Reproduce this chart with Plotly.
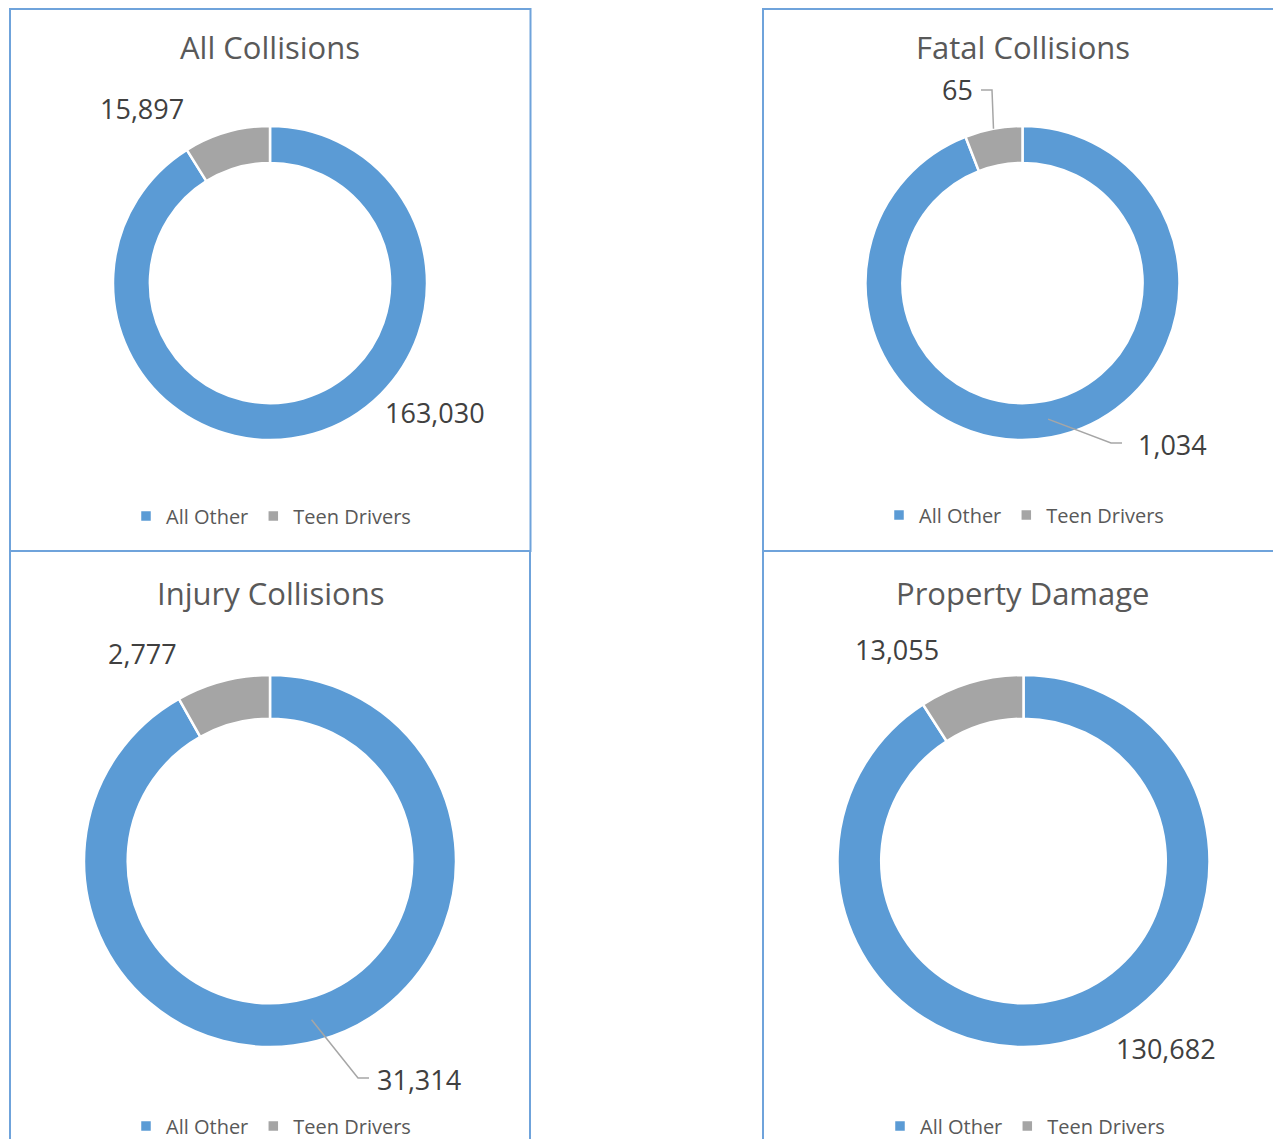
import math
import plotly.graph_objects as go

W, H = 1281, 1139
OFF = 8  # page body margin
FW, FH = W - OFF, H - OFF

# ---- data ----
titles = ["All Collisions", "Fatal Collisions", "Injury Collisions", "Property Damage"]
categories = ["All Other", "Teen Drivers"]
all_other = [163030, 1034, 31314, 130682]
teen_drivers = [15897, 65, 2777, 13055]

# ---- layout geometry (page pixels) ----
panels = [  # border box x0, y0, x1, y1
    (10, 9, 530.5, 551),
    (763, 9, 1295, 551),
    (10, 551, 530, 1150),
    (763, 551, 1295, 1150),
]
centers = [(270, 283), (1022.5, 283), (270, 861), (1023.5, 861)]
outer_r = [157, 157, 186, 186]
hole = 0.765
title_y = [47, 47, 593, 593]
legend_pos = [(271, 516), (1024, 515), (271, 1126), (1025, 1126)]
teen_lbl = [(142, 109), (957, 90), (142, 653), (897, 650)]
other_lbl = [(435, 412), (1172, 444), (419, 1079), (1166, 1048)]
leader_teen = [False, True, False, False]
leader_other = [False, True, True, False]

BLUE = "#5B9BD5"
GRAY = "#A5A5A5"
FONT = "Open Sans"


def px(x):
    return (x - OFF) / FW


def py(y):
    return 1 - (y - OFF) / FH


fig = go.Figure()
annotations = []
shapes = []

for i in range(4):
    cx, cy = centers[i]
    r = outer_r[i]
    vals = [all_other[i], teen_drivers[i]]
    leg = "legend" if i == 0 else f"legend{i + 1}"
    fig.add_trace(go.Pie(
        labels=categories,
        values=vals,
        hole=hole,
        sort=False,
        direction="clockwise",
        rotation=0,
        textinfo="none",
        hoverinfo="label+value",
        marker=dict(colors=[BLUE, GRAY], line=dict(color="white", width=2.5)),
        domain=dict(x=[px(cx - r), px(cx + r)], y=[py(cy + r), py(cy - r)]),
        legend=leg,
        legendgroup=f"g{i}",
        showlegend=True,
    ))

    x0, y0, x1, y1 = panels[i]
    shapes.append(dict(type="rect", xref="paper", yref="paper",
                       x0=px(x0), x1=px(x1), y0=py(y1), y1=py(y0),
                       line=dict(color="#6FA3DB", width=2), fillcolor="rgba(0,0,0,0)",
                       layer="above"))

    annotations.append(dict(text=titles[i], x=px(cx), y=py(title_y[i]),
                            xref="paper", yref="paper", showarrow=False,
                            xanchor="center", yanchor="middle",
                            font=dict(family=FONT, size=31, color="#595959")))

    total = sum(vals)
    for j, (lbl, lead) in enumerate([(teen_lbl[i], leader_teen[i]), (other_lbl[i], leader_other[i])]):
        v = teen_drivers[i] if j == 0 else all_other[i]
        annotations.append(dict(text=f"{v:,}", x=px(lbl[0]), y=py(lbl[1]),
                                xref="paper", yref="paper", showarrow=False,
                                xanchor="center", yanchor="middle",
                                font=dict(family=FONT, size=27, color="#404040")))
        if lead:
            if j == 1:
                frac_mid = (all_other[i] / total) / 2
                rr = r * (1 + hole) / 2
            else:
                frac_mid = 1 - (teen_drivers[i] / total) / 2
                rr = r
            ang = 2 * math.pi * frac_mid
            sx = cx + rr * math.sin(ang)
            sy = cy - rr * math.cos(ang)
            if j == 1:
                ex, ey = lbl[0] - 50, lbl[1] - 1
                pts = [(sx, sy), (ex - 11, ey), (ex, ey)]
            else:
                ex, ey = lbl[0] + 24, lbl[1]
                pts = [(sx, sy), (ex + 11, ey), (ex, ey)]
            path = "M " + " L ".join(f"{px(a)},{py(b)}" for a, b in pts)
            shapes.append(dict(type="path", xref="paper", yref="paper", path=path,
                               line=dict(color="#A6A6A6", width=1.5)))

layout_legends = {}
for i in range(4):
    key = "legend" if i == 0 else f"legend{i + 1}"
    lx, ly = legend_pos[i]
    layout_legends[key] = dict(orientation="h", x=px(lx), y=py(ly),
                               xanchor="center", yanchor="middle",
                               traceorder="normal",
                               font=dict(family=FONT, size=20, color="#595959"),
                               itemwidth=30, tracegroupgap=0,
                               bgcolor="rgba(0,0,0,0)")

fig.update_layout(
    width=FW, height=FH,
    margin=dict(l=0, r=0, t=0, b=0, autoexpand=False),
    paper_bgcolor="white",
    plot_bgcolor="white",
    annotations=annotations,
    shapes=shapes,
    **layout_legends,
)

fig.write_html("out.html")
